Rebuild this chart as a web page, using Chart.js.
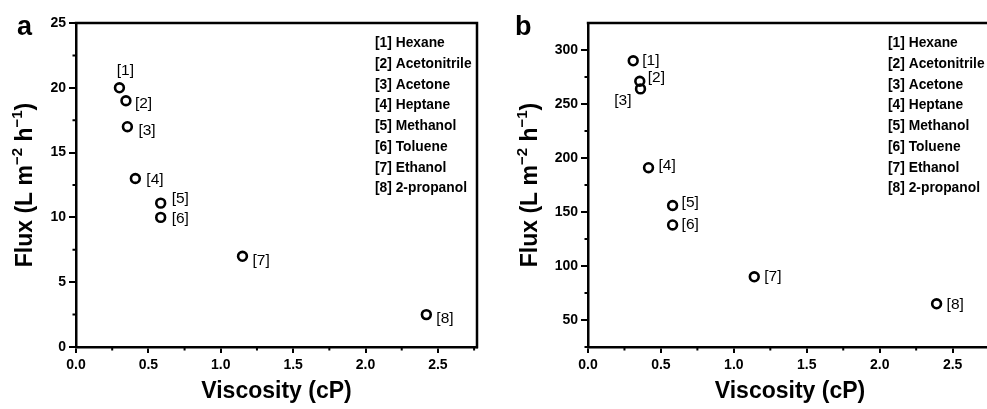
<!DOCTYPE html>
<html>
<head>
<meta charset="utf-8">
<script src="https://cdn.jsdelivr.net/npm/chart.js@4.4.1/dist/chart.umd.min.js"></script>
<style>
  html, body { margin: 0; padding: 0; background: #fff; width: 987px; height: 409px; overflow: hidden; position: relative; }
  .panel { position: absolute; top: 0; }
  #panelA { left: 0; }
  #panelB { left: 490px; }
</style>
</head>
<body>
<canvas id="panelA" class="panel" width="490" height="409"></canvas>
<canvas id="panelB" class="panel" width="520" height="409"></canvas>
<script>
// solvent list (legend) and point labels
const solvents = ['Hexane', 'Acetonitrile', 'Acetone', 'Heptane', 'Methanol', 'Toluene', 'Ethanol', '2-propanol'];
const pointTags = ['[1]', '[2]', '[3]', '[4]', '[5]', '[6]', '[7]', '[8]'];

// panel a
const viscosityA = [0.30, 0.345, 0.355, 0.41, 0.585, 0.585, 1.15, 2.42];
const fluxA = [20, 19, 17, 13, 11.1, 10, 7, 2.5];
const yTicksA = [0, 5, 10, 15, 20, 25];
const yMinorA = [2.5, 7.5, 12.5, 17.5, 22.5];

// panel b
const viscosityB = [0.31, 0.355, 0.36, 0.415, 0.58, 0.58, 1.14, 2.39];
const fluxB = [290, 271, 264, 191, 156, 138, 90, 65];
const yTicksB = [50, 100, 150, 200, 250, 300];
const yMinorB = [25, 75, 125, 175, 225, 275];

// shared x axis
const xTicks = [0, 0.5, 1.0, 1.5, 2.0, 2.5];
const xMinor = [0.25, 0.75, 1.25, 1.75, 2.25, 2.75];

const FONT = '"Liberation Sans", Arial, Helvetica, sans-serif';

// label placement next to each point: [dx, dy, align]
const tagPosA = [[6, -17, 'center'], [9, 3, 'left'], [11, 4, 'left'], [11, 1, 'left'],
                 [11, -4, 'left'], [11, 1, 'left'], [10, 4, 'left'], [10, 4, 'left']];
const tagPosB = [[9, 0, 'left'], [8, -4, 'left'], [-9, 12, 'right'], [10, -2, 'left'],
                 [9, -3, 'left'], [9, 0, 'left'], [10, 0, 'left'], [10, 1, 'left']];

function drawYTitle(ctx, cx, cy) {
  const big = 'bold 23px ' + FONT;
  const small = 'bold 15px ' + FONT;
  const parts = [['Flux (L m', big, 0], ['\u22122', small, -10], [' h', big, 0], ['\u22121', small, -10], [')', big, 0]];
  ctx.save();
  ctx.translate(cx, cy);
  ctx.rotate(-Math.PI / 2);
  ctx.fillStyle = '#000';
  ctx.textBaseline = 'alphabetic';
  ctx.textAlign = 'left';
  let total = 0;
  parts.forEach(p => { ctx.font = p[1]; total += ctx.measureText(p[0]).width; });
  let x = -total / 2;
  parts.forEach(p => {
    ctx.font = p[1];
    ctx.fillText(p[0], x, 8 + p[2]);
    x += ctx.measureText(p[0]).width;
  });
  ctx.restore();
}

const decorPlugin = {
  id: 'decor',
  afterDraw(chart) {
    const o = chart.options.plugins.decor;
    const ctx = chart.ctx;
    const area = chart.chartArea;
    const xs = chart.scales.x;
    const ys = chart.scales.y;
    ctx.save();
    ctx.strokeStyle = '#000';
    ctx.fillStyle = '#000';

    // frame: top and right edges
    ctx.lineWidth = 2.5;
    ctx.beginPath();
    ctx.moveTo(area.left - 1.2, area.top);
    ctx.lineTo(area.right, area.top);
    ctx.lineTo(area.right, area.bottom + 1.2);
    ctx.stroke();

    // minor ticks
    ctx.lineWidth = 2;
    ctx.beginPath();
    xMinor.forEach(v => {
      const px = xs.getPixelForValue(v);
      if (px > area.right + 1) return;
      ctx.moveTo(px, area.bottom);
      ctx.lineTo(px, area.bottom + 3.5);
    });
    o.yMinor.forEach(v => {
      const py = ys.getPixelForValue(v);
      ctx.moveTo(area.left, py);
      ctx.lineTo(area.left - 3.5, py);
    });
    ctx.stroke();

    // point tags
    ctx.font = '15.5px ' + FONT;
    ctx.textBaseline = 'middle';
    const pts = chart.getDatasetMeta(0).data;
    pts.forEach((p, i) => {
      const [dx, dy, align] = o.tagPos[i];
      ctx.textAlign = align;
      ctx.fillText(pointTags[i], p.x + dx, p.y + dy);
    });

    // legend text
    ctx.font = 'bold 13.8px ' + FONT;
    ctx.textAlign = 'left';
    solvents.forEach((s, i) => {
      ctx.fillText(pointTags[i] + ' ' + s, o.legendX, 43.5 + i * 20.7);
    });

    // axis titles
    ctx.font = 'bold 23px ' + FONT;
    ctx.textAlign = 'center';
    ctx.textBaseline = 'middle';
    ctx.fillText('Viscosity (cP)', (area.left + area.right) / 2, 392);
    drawYTitle(ctx, o.yTitleX, (area.top + area.bottom) / 2);

    // panel letter
    ctx.font = 'bold 27px ' + FONT;
    ctx.textAlign = 'left';
    ctx.textBaseline = 'alphabetic';
    ctx.fillText(o.letter, o.letterX, 35);
    ctx.restore();
  }
};

function makePanel(id, cfg) {
  const tickFont = { family: FONT, size: 14, weight: 'bold' };
  return new Chart(document.getElementById(id), {
    type: 'scatter',
    data: {
      datasets: [{
        data: cfg.x.map((v, i) => ({ x: v, y: cfg.y[i] })),
        pointStyle: 'circle',
        pointRadius: 4.4,
        pointHoverRadius: 4.4,
        pointBorderWidth: 2.6,
        pointBorderColor: '#000',
        pointBackgroundColor: 'rgba(0,0,0,0)'
      }]
    },
    options: {
      responsive: false,
      animation: false,
      events: [],
      layout: { padding: { left: 0, top: 23, right: cfg.padRight, bottom: 0 } },
      plugins: {
        legend: { display: false },
        tooltip: { enabled: false },
        decor: cfg.decor
      },
      scales: {
        x: {
          type: 'linear',
          min: 0,
          max: 2.77,
          afterBuildTicks: s => { s.ticks = xTicks.map(v => ({ value: v })); },
          afterFit: s => { s.height = 62; },
          ticks: {
            callback: v => v.toFixed(1),
            font: tickFont,
            color: '#000',
            padding: 4,
            maxRotation: 0,
            autoSkip: false
          },
          grid: { display: true, drawOnChartArea: false, drawTicks: true, tickLength: 6, color: '#000', lineWidth: 2 },
          border: { display: true, color: '#000', width: 2.5 }
        },
        y: {
          type: 'linear',
          min: cfg.yMin,
          max: cfg.yMax,
          afterBuildTicks: s => { s.ticks = cfg.yTicks.map(v => ({ value: v })); },
          afterFit: s => { s.width = cfg.yWidth; },
          ticks: {
            callback: v => String(v),
            font: tickFont,
            color: '#000',
            padding: 3,
            autoSkip: false
          },
          grid: { display: true, drawOnChartArea: false, drawTicks: true, tickLength: 7, color: '#000', lineWidth: 2 },
          border: { display: true, color: '#000', width: 2.5 }
        }
      }
    },
    plugins: [decorPlugin]
  });
}

makePanel('panelA', {
  x: viscosityA, y: fluxA,
  yMin: 0, yMax: 25, yTicks: yTicksA, yWidth: 76, padRight: 13,
  decor: { yMinor: yMinorA, tagPos: tagPosA, legendX: 375, yTitleX: 24, letter: 'a', letterX: 17 }
});

makePanel('panelB', {
  x: viscosityB, y: fluxB,
  yMin: 25, yMax: 325, yTicks: yTicksB, yWidth: 98, padRight: 18,
  decor: { yMinor: yMinorB, tagPos: tagPosB, legendX: 398, yTitleX: 39, letter: 'b', letterX: 25 }
});
</script>
</body>
</html>
